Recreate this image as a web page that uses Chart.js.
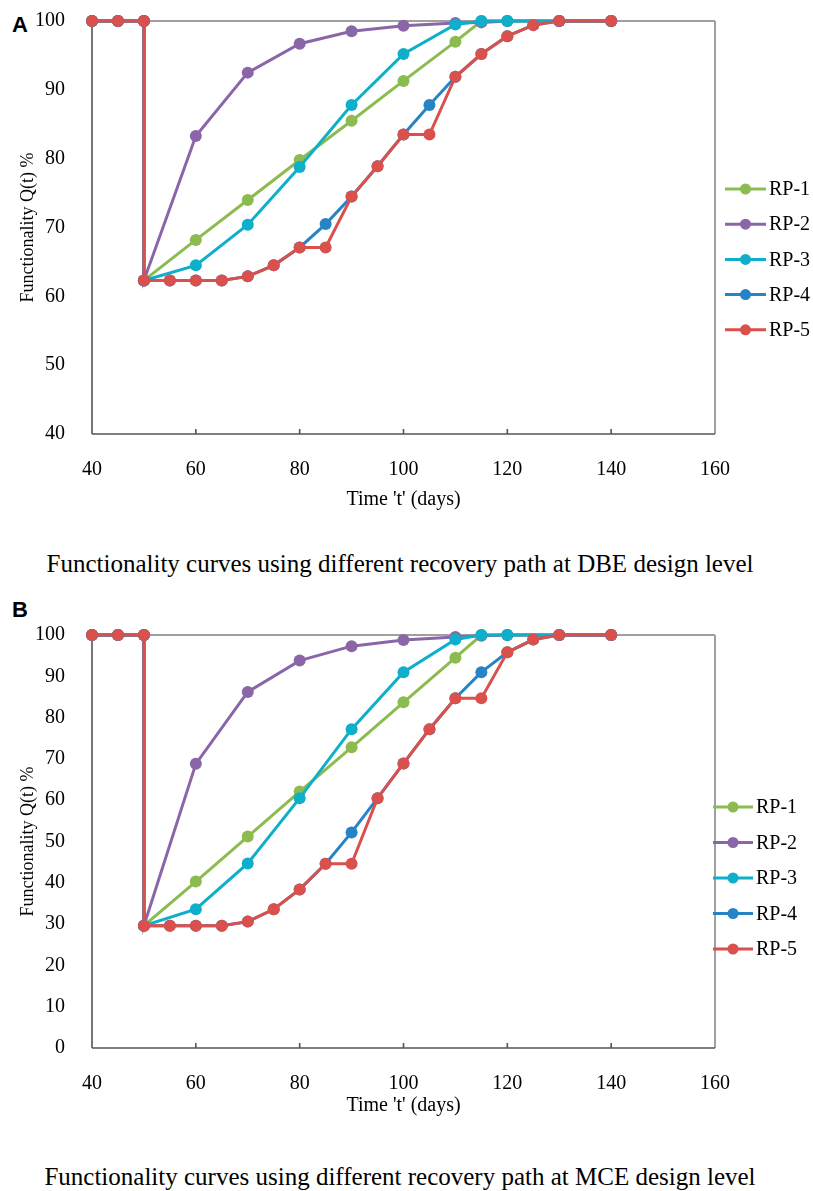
<!DOCTYPE html>
<html>
<head>
<meta charset="utf-8">
<script src="https://cdn.jsdelivr.net/npm/chart.js@4"></script>
<style>
  body { margin: 0; background: #fff; }
  #page { position: relative; width: 813px; height: 1191px; overflow: hidden; }
  canvas { position: absolute; left: 0; }
  .tag { position: absolute; left: 12px; font: bold 22px "Liberation Sans", Arial, sans-serif; color: #000; }
  .caption { position: absolute; left: 0; width: 800px; text-align: center; font: 25px "Liberation Serif", "Times New Roman", serif; color: #000; white-space: nowrap; }
</style>
</head>
<body>
<div id="page">
  <div class="tag" style="top:12px">A</div>
  <canvas id="chartA" width="813" height="525" style="top:0"></canvas>
  <div class="caption" style="top:550px">Functionality curves using different recovery path at DBE design level</div>

  <div class="tag" style="top:597px">B</div>
  <canvas id="chartB" width="813" height="520" style="top:614px"></canvas>
  <div class="caption" style="top:1163px">Functionality curves using different recovery path at MCE design level</div>
</div>
<script>
// x values (days)
const daysCoarse = [40, 45, 50, 50, 60, 70, 80, 90, 100, 110, 115, 120, 130, 140];
const daysFine = [40, 45, 50, 50, 55, 60, 65, 70, 75, 80, 85, 90, 95, 100, 105, 110, 115, 120, 125, 130, 140];

const seriesNames = ['RP-1', 'RP-2', 'RP-3', 'RP-4', 'RP-5'];
const xTicks = [40, 60, 80, 100, 120, 140, 160];

// DBE level (A)
const dbeRP1 = [100, 100, 100, 62.3, 68.2, 74.0, 79.8, 85.5, 91.3, 97.0, 100, 100, 100, 100];
const dbeRP2 = [100, 100, 100, 62.3, 83.3, 92.5, 96.7, 98.5, 99.3, 99.7, 99.8, 100, 100, 100];
const dbeRP3 = [100, 100, 100, 62.3, 64.5, 70.4, 78.8, 87.8, 95.2, 99.5, 100, 100, 100, 100];
const dbeRP4 = [100, 100, 100, 62.3, 62.3, 62.3, 62.3, 62.9, 64.5, 67.1, 70.5, 74.5, 78.9, 83.5, 87.8, 91.9, 95.2, 97.8, 99.4, 100, 100];
const dbeRP5 = [100, 100, 100, 62.3, 62.3, 62.3, 62.3, 62.9, 64.5, 67.1, 67.1, 74.5, 78.9, 83.5, 83.5, 91.9, 95.2, 97.8, 99.4, 100, 100];

// MCE level (B)
const mceRP1 = [100, 100, 100, 29.6, 40.3, 51.2, 62.1, 72.8, 83.7, 94.5, 100, 100, 100, 100];
const mceRP2 = [100, 100, 100, 29.6, 68.8, 86.2, 93.8, 97.3, 98.8, 99.5, 99.8, 100, 100, 100];
const mceRP3 = [100, 100, 100, 29.6, 33.6, 44.7, 60.5, 77.2, 91.0, 98.9, 100, 100, 100, 100];
const mceRP4 = [100, 100, 100, 29.6, 29.6, 29.6, 29.6, 30.6, 33.6, 38.4, 44.6, 52.2, 60.5, 68.9, 77.2, 84.7, 91.0, 95.8, 98.9, 100, 100];
const mceRP5 = [100, 100, 100, 29.6, 29.6, 29.6, 29.6, 30.6, 33.6, 38.4, 44.6, 44.6, 60.5, 68.9, 77.2, 84.7, 84.7, 95.8, 98.9, 100, 100];

const colors = ['#8cbb4f', '#8a66a9', '#0eafca', '#2683c4', '#da504c'];
const SERIF = '"Liberation Serif", "Times New Roman", serif';

function toPoints(xs, ys) {
  return xs.map((x, i) => ({ x, y: ys[i] }));
}

// frame: gray top/right border, dark left/bottom axes, small inward x ticks
const framePlugin = {
  id: 'frame',
  beforeDatasetsDraw(chart) {
    const { ctx, chartArea: a, scales } = chart;
    ctx.save();
    ctx.strokeStyle = '#a0a0a0';
    ctx.lineWidth = 2;
    ctx.beginPath();
    ctx.moveTo(a.left, a.top); ctx.lineTo(a.right, a.top);
    ctx.moveTo(a.right, a.top); ctx.lineTo(a.right, a.bottom);
    ctx.stroke();
    ctx.strokeStyle = '#555';
    ctx.lineWidth = 1.6;
    ctx.beginPath();
    ctx.moveTo(a.left, a.top); ctx.lineTo(a.left, a.bottom);
    ctx.moveTo(a.left, a.bottom); ctx.lineTo(a.right, a.bottom);
    xTicks.slice(1, -1).forEach(v => {
      const px = scales.x.getPixelForValue(v);
      ctx.moveTo(px, a.bottom); ctx.lineTo(px, a.bottom - 5);
    });
    ctx.stroke();
    ctx.restore();
  }
};

// legend drawn as line + marker + label
const legendPlugin = {
  id: 'lineLegend',
  afterDraw(chart, args, opts) {
    const { ctx } = chart;
    ctx.save();
    chart.data.datasets.forEach((ds, i) => {
      const y = opts.top + i * opts.gap;
      ctx.strokeStyle = ds.borderColor;
      ctx.lineWidth = 3;
      ctx.beginPath();
      ctx.moveTo(opts.x0, y); ctx.lineTo(opts.x1, y);
      ctx.stroke();
      ctx.fillStyle = ds.borderColor;
      ctx.beginPath();
      ctx.arc((opts.x0 + opts.x1) / 2, y, 5.5, 0, Math.PI * 2);
      ctx.fill();
      ctx.fillStyle = '#000';
      ctx.font = '20px ' + SERIF;
      ctx.textBaseline = 'middle';
      ctx.fillText(ds.label, opts.x1 + 3, y + 1);
    });
    ctx.restore();
  }
};

function makeChart(id, sets, yMin, legend, titlePadBottom) {
  const canvas = document.getElementById(id);
  const xsList = [daysCoarse, daysCoarse, daysCoarse, daysFine, daysFine];
  const datasets = sets.map((ys, i) => ({
    label: seriesNames[i],
    data: toPoints(xsList[i], ys),
    borderColor: colors[i],
    backgroundColor: colors[i],
    pointBackgroundColor: colors[i],
    pointBorderWidth: 0,
    pointRadius: 6,
    pointHoverRadius: 6,
    borderWidth: 3,
    tension: 0,
    clip: false,
    order: 5 - i
  }));

  const chart = new Chart(canvas.getContext('2d'), {
    type: 'line',
    data: { datasets },
    options: {
      responsive: false,
      animation: false,
      events: [],
      layout: { padding: { top: 21, right: 98, left: 0, bottom: 0 } },
      plugins: {
        legend: { display: false },
        tooltip: { enabled: false },
        lineLegend: legend
      },
      scales: {
        x: {
          type: 'linear',
          min: 40, max: 160,
          afterBuildTicks: s => { s.ticks = xTicks.map(v => ({ value: v })); },
          afterFit: s => { s.height = canvas.height - 434; s.paddingLeft = 0; s.paddingRight = 0; },
          grid: { display: false },
          border: { display: false },
          ticks: { color: '#000', font: { family: SERIF, size: 20 }, padding: 16, maxRotation: 0 },
          title: {
            display: true, text: "Time 't' (days)", color: '#000',
            font: { family: SERIF, size: 20 }, padding: { top: 0, bottom: titlePadBottom }
          }
        },
        y: {
          min: yMin, max: 100,
          afterFit: s => { s.width = 92; s.paddingTop = 0; s.paddingBottom = 0; },
          grid: { display: false },
          border: { display: false },
          ticks: { stepSize: 10, color: '#000', font: { family: SERIF, size: 20 }, padding: 19 },
          title: {
            display: true, text: 'Functionality Q(t) %', color: '#000',
            font: { family: SERIF, size: 18 }, padding: { top: 17, bottom: 0 }
          }
        }
      }
    },
    plugins: [framePlugin, legendPlugin]
  });

  // nudge the plot area so its top edge sits where the reference has it
  for (let k = 0; k < 4; k++) {
    const dt = chart.chartArea.top - 21;
    if (Math.abs(dt) < 0.5) break;
    chart.options.layout.padding.top -= dt;
    chart.update();
  }
  return chart;
}

makeChart('chartA', [dbeRP1, dbeRP2, dbeRP3, dbeRP4, dbeRP5], 40,
  { x0: 725, x1: 766, top: 189, gap: 35.2 }, 13);
makeChart('chartB', [mceRP1, mceRP2, mceRP3, mceRP4, mceRP5], 0,
  { x0: 713, x1: 753, top: 193, gap: 35.5 }, 16);
</script>
</body>
</html>
